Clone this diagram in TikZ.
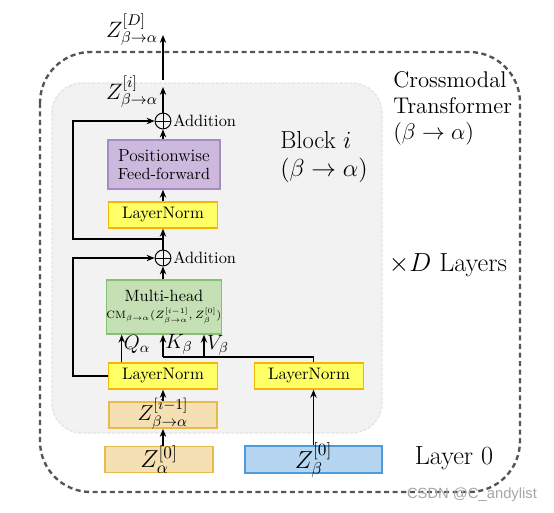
\RequirePackage{fix-cm}
\documentclass[tikz,border=0pt]{standalone}
\usepackage{fontspec}
\newfontfamily\wmfont{Liberation Sans}
\usetikzlibrary{arrows.meta,calc}
\definecolor{lnfill}{HTML}{FFFF66}
\definecolor{lnbord}{HTML}{F2B705}
\definecolor{zfill}{HTML}{F5E0B4}
\definecolor{zbord}{HTML}{E8BA4A}
\definecolor{bfill}{HTML}{B6D5F0}
\definecolor{bbord}{HTML}{4D9BDA}
\definecolor{pfill}{HTML}{CDB9DD}
\definecolor{pbord}{HTML}{A48CC0}
\definecolor{gfill}{HTML}{C6E0B6}
\definecolor{gbord}{HTML}{88C071}
\definecolor{blockfill}{HTML}{F2F2F2}
\definecolor{blockbord}{HTML}{E4E4E4}
\definecolor{outerc}{HTML}{555555}
\tikzset{
  arr/.style={-{Stealth[length=5pt,width=4pt]}, line width=0.8pt, black},
  con/.style={line width=0.8pt, black},
  boxbase/.style={rectangle, draw, line width=0.9pt, inner sep=0pt, align=center, text=black},
  lnbox/.style={boxbase, fill=lnfill, draw=lnbord, minimum width=69pt, minimum height=16.4pt, font=\fontsize{10.5}{12}\selectfont},
  zbox/.style={boxbase, fill=zfill, draw=zbord, minimum width=68pt, minimum height=16.6pt},
  bluebox/.style={boxbase, fill=bfill, draw=bbord, minimum width=86.3pt, minimum height=17pt},
  pwbox/.style={boxbase, fill=pfill, draw=pbord, minimum width=70.6pt, minimum height=30.9pt},
  mhbox/.style={boxbase, fill=gfill, draw=gbord, minimum width=69.3pt, minimum height=34pt},
  addnode/.style={circle, draw, line width=0.6pt, minimum size=10pt, inner sep=0pt,
    path picture={\draw[line width=0.6pt] (path picture bounding box.north) -- (path picture bounding box.south)
      (path picture bounding box.west) -- (path picture bounding box.east);}},
  addlabel/.style={anchor=west, inner sep=1pt, font=\fontsize{10.3}{12}\selectfont},
  bigtext/.style={font=\fontsize{16.5}{19}\selectfont, inner sep=0pt},
}
\begin{document}
\begin{tikzpicture}[x=0.63pt, y=-0.63pt]
\useasboundingbox (0,0) rectangle (554,512);
% outer frame
\draw[outerc, line width=1.5pt, dash pattern=on 3.2pt off 2.2pt, rounded corners=32pt] (40,52) rectangle (520,492);
% block background
\draw[blockbord, fill=blockfill, line width=0.9pt, dash pattern=on 2pt off 1pt, rounded corners=19pt] (52,83) rectangle (382,433);

% nodes
\node[zbox, text height=12.5pt, text depth=2pt] (za) at (159,459.5) {\fontsize{15.5}{18}\selectfont $Z^{[0]}_{\alpha}$};
\node[bluebox, text height=13pt, text depth=2pt] (zb) at (313.5,459.5) {\fontsize{15.5}{18}\selectfont $Z^{[0]}_{\beta}$};
\node[zbox, text height=9.4pt, text depth=2pt] (zim1) at (163,415) {\fontsize{13.6}{16}\selectfont $Z^{[i-1]}_{\beta\to\alpha}$};
\node[lnbox] (ln1) at (163,376) {LayerNorm};
\node[lnbox] (ln2) at (309,376) {LayerNorm};
\node[mhbox] (mh) at (164,307) {\fontsize{10.3}{12}\selectfont Multi-head\\[-1pt]
  \fontsize{6.7}{8}\selectfont $\mathrm{CM}_{\beta\to\alpha}(Z^{[i-1]}_{\beta\to\alpha},Z^{[0]}_{\beta})$};
\node[addnode] (add1) at (163,258) {};
\node[addlabel] (add1l) at (add1.east) {Addition};
\node[lnbox] (ln3) at (163,215) {LayerNorm};
\node[pwbox] (pw) at (164,164.5) {\fontsize{11}{13}\selectfont Positionwise\\[-1pt]\fontsize{10.2}{12}\selectfont Feed-forward};
\node[addnode] (add2) at (163,121) {};
\node[addlabel] (add2l) at (add2.east) {Addition};

\node[inner sep=0pt, font=\fontsize{14}{16}\selectfont] (zi) at (132,92) {$Z^{[i]}_{\beta\to\alpha}$};
\node[inner sep=0pt, font=\fontsize{14}{16}\selectfont] (zD) at (132,30) {$Z^{[D]}_{\beta\to\alpha}$};

\node[inner sep=0pt, font=\fontsize{13}{15}\selectfont] (ql) at (137,344) {$Q_\alpha$};
\node[inner sep=0pt, font=\fontsize{13}{15}\selectfont] (kl) at (179,344) {$K_\beta$};
\node[inner sep=0pt, font=\fontsize{13}{15}\selectfont] (vl) at (218,345) {$V_\beta$};

\node[anchor=north west, align=left, inner sep=0pt, font=\fontsize{15.5}{17.6}\selectfont] (blk) at (280,131) {Block $i$\\$(\beta\to\alpha)$};
\node[anchor=north west, align=left, inner sep=0pt, font=\fontsize{14.3}{16.4}\selectfont] (cmt) at (393,71) {Crossmodal\\Transformer\\$(\beta\to\alpha)$};
\node[bigtext] (dl) at (448,265) {$\times D$ Layers};
\node[bigtext] (l0) at (454,458) {Layer 0};
\node[inner sep=0pt, text=gray!70, font=\wmfont\fontsize{9.3}{11}\selectfont] (wm) at (472,495) {CSDN @C\_andylist};

% coordinates
\coordinate (ziTip) at (163,87);
\coordinate (zDbase) at (163,80);
\coordinate (zDtip) at (163,35);
\coordinate (j1) at (163,239);
\coordinate (r1) at (73,239);
\coordinate (qx) at (121.7,0);
\coordinate (kv) at (163,357);
\coordinate (vx) at (204,357);

% connectors
\draw[arr] (zim1.south |- za.north) -- (zim1.south);
\draw[arr] (zim1.north) -- (ln1.south);
\draw[arr] (zb.north) -- (zb.north |- ln2.south);
\draw[arr] (ln1.north -| qx) -- (mh.south -| qx);
\draw[con] (ln2.north -| zb) -- (zb |- kv) -- (kv);
\draw[arr] (kv) -- (kv |- mh.south);
\draw[arr] (vx) -- (vx |- mh.south);
\draw[arr] (ln1.west) -- (ln1.west -| r1) |- (add1.west);
\draw[arr] (add1 |- mh.north) -- (add1.south);
\draw[arr] (add1.north) -- (ln3.south);
\draw[arr] (j1) -- (r1) |- (add2.west);
\draw[arr] (ln3.north) -- (ln3.north |- pw.south);
\draw[arr] (add2 |- pw.north) -- (add2.south);
\draw[arr] (add2.north) -- (ziTip);
\draw[arr] (zDbase) -- (zDtip);
\end{tikzpicture}
\end{document}
